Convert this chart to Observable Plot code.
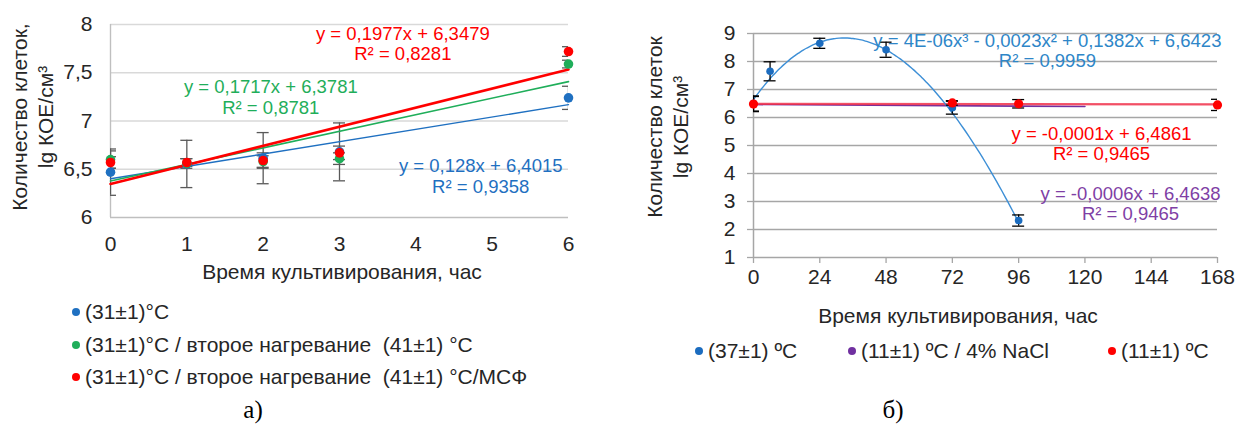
<!DOCTYPE html>
<html>
<head>
<meta charset="utf-8">
<script src="https://cdn.jsdelivr.net/npm/d3@7"></script>
<script src="https://cdn.jsdelivr.net/npm/@observablehq/plot@0.6"></script>
<style>
  body { margin: 0; background: #fff; }
  #root { position: relative; width: 1237px; height: 427px; overflow: hidden; background: #fff;
          font-family: "Liberation Sans", Arial, sans-serif; color: #262626; }
  .ylab { position: absolute; text-align: center; line-height: 26px; font-size: 21px;
          white-space: pre; transform: translate(-50%, -50%) rotate(-90deg); }
  .xlab { position: absolute; font-size: 21px; white-space: nowrap; transform: translate(-50%, -50%); }
  .leg { position: absolute; font-size: 21px; white-space: pre; transform: translateY(-50%); }
  .dot { display: inline-block; width: 8px; height: 8px; border-radius: 50%; margin-right: 5px; vertical-align: 3px; }
  .cap { position: absolute; font-family: "Liberation Serif", "Times New Roman", serif; font-size: 25px;
         color: #000; transform: translate(-50%, -50%); }
</style>
</head>
<body>
<div id="root"></div>
<script>
// ---------- Panel а: growth during cultivation at (31±1)°C ----------
const hoursA = [0, 1, 2, 3, 6];
const seriesNamesA = [
  "(31±1)°C",
  "(31±1)°C / второе нагревание  (41±1) °C",
  "(31±1)°C / второе нагревание  (41±1) °C/МСФ"
];
const colorsA = ["#1f70c1", "#1fae5a", "#ff0000"];
const valuesBlueA = [6.47, 6.555, 6.615, 6.68, 7.24];
const errorsBlueA = [0.24, 0.245, 0.265, 0.30, 0.12];
const valuesGreenA = [6.60, 6.56, 6.58, 6.61, 7.59];
const errorsGreenA = [0.09, 0.05, 0.06, 0.06, 0.04];
const valuesRedA = [6.57, 6.57, 6.59, 6.67, 7.72];
const errorsRedA = [0.06, 0.04, 0.08, 0.07, 0.05];
// linear trendlines y = slope·x + intercept
const slopesA = [0.128, 0.1717, 0.1977];
const interceptsA = [6.4015, 6.3781, 6.3479];
const r2A = ["0,9358", "0,8781", "0,8281"];
const yTicksA = [6, 6.5, 7, 7.5, 8];
const xTicksA = [0, 1, 2, 3, 4, 5, 6];

// ---------- Panel б: long cultivation ----------
const seriesNamesB = ["(37±1) ºC", "(11±1) ºC / 4% NaCl", "(11±1) ºC"];
const colorsB = ["#1b6cbf", "#7030a0", "#ff0000"];
const hours37 = [0, 6, 24, 48, 72, 96];
const values37 = [6.50, 7.65, 8.65, 8.42, 6.35, 2.32];
const errors37 = [0.27, 0.34, 0.18, 0.27, 0.23, 0.20];
const hours11 = [0, 72, 96, 168];
const values11 = [6.48, 6.52, 6.49, 6.45];
const errors11 = [0.27, 0.08, 0.15, 0.20];
// cubic trendline for 37 ºC: 4E-06x³ - 0,0023x² + 0,1382x + 6,6423
const cubic37 = [4e-6, -0.0023, 0.1382, 6.6423];
const range37 = [0, 96];
const r2_37 = "0,9959";
// linear trendlines for 11 ºC series
const slopeNaCl = -0.0006, interceptNaCl = 6.4638, rangeNaCl = [0, 120], r2NaCl = "0,9465";
const slope11 = -0.0001, intercept11 = 6.4861, range11 = [0, 168], r211 = "0,9465";
const yTicksB = [1, 2, 3, 4, 5, 6, 7, 8, 9];
const xTicksB = [0, 24, 48, 72, 96, 120, 144, 168];

const comma = d => String(d).replace(".", ",");
const eqLinear = (a, b) => `y = ${comma(a)}x + ${comma(b)}`;
const root = document.getElementById("root");
const baseStyle = { fontFamily: "Liberation Sans, Arial, sans-serif", fontSize: "21px",
                    color: "#262626", background: "transparent", overflow: "visible" };

function errorMarks(rows, stroke, capHalf) {
  return [
    Plot.ruleX(rows, { x: "x", y1: d => d.y - d.e, y2: d => d.y + d.e, stroke, strokeWidth: 1.3, clip: true }),
    Plot.ruleY(rows, { y: d => d.y - d.e, x1: "x", x2: "x", insetLeft: -capHalf, insetRight: -capHalf,
                       stroke, strokeWidth: 1.3, clip: true }),
    Plot.ruleY(rows, { y: d => d.y + d.e, x1: "x", x2: "x", insetLeft: -capHalf, insetRight: -capHalf,
                       stroke, strokeWidth: 1.3, clip: true })
  ];
}

// ----- build panel а -----
const valsA = [valuesBlueA, valuesGreenA, valuesRedA];
const errsA = [errorsBlueA, errorsGreenA, errorsRedA];
const rowsA = valsA.map((vals, s) => hoursA.map((x, i) => ({ x, y: vals[i], e: errsA[s][i], s })));
const trendRowsA = slopesA.map((a, s) => [xTicksA[0], xTicksA[xTicksA.length - 1]]
  .map(x => ({ x, y: a * x + interceptsA[s], s })));
const trendWidthsA = [1.4, 1.6, 2.6];
const labelPosA = [[4.85, 6.43], [2.1, 7.25], [3.83, 7.8]];

const plotA = Plot.plot({
  width: 600, height: 260,
  marginLeft: 110, marginRight: 32, marginTop: 24, marginBottom: 43,
  style: baseStyle,
  x: { domain: [0, 6] },
  y: { domain: [6, 8] },
  marks: [
    Plot.ruleY(yTicksA.slice(1), { stroke: "#d9d9d9", strokeWidth: 1.3 }),
    Plot.ruleY([6], { stroke: "#bfbfbf", strokeWidth: 1.6 }),
    Plot.ruleX([0], { stroke: "#bfbfbf", strokeWidth: 1.4 }),
    Plot.axisY(yTicksA, { tickSize: 0, tickPadding: 18, tickFormat: comma, label: null }),
    Plot.axisX(xTicksA, { tickSize: 0, tickPadding: 19, label: null }),
    ...rowsA.flatMap(rows => errorMarks(rows, "#595959", 6)),
    ...trendRowsA.map((rows, s) => Plot.line(rows, { x: "x", y: "y", stroke: colorsA[s], strokeWidth: trendWidthsA[s] })),
    ...rowsA.map((rows, s) => Plot.dot(rows, { x: "x", y: "y", r: 4.8, fill: colorsA[s] })),
    ...slopesA.map((a, s) => Plot.text([`${eqLinear(a, interceptsA[s])}\nR² = ${r2A[s]}`], {
      x: labelPosA[s][0], y: labelPosA[s][1], text: d => d, fill: colorsA[s],
      fontSize: 18.5, lineHeight: 1.1
    }))
  ]
});
plotA.style.position = "absolute";
plotA.style.left = "0px";
plotA.style.top = "0px";
root.appendChild(plotA);

// ----- build panel б -----
const rows37 = hours37.map((x, i) => ({ x, y: values37[i], e: errors37[i] }));
const rows11 = hours11.map((x, i) => ({ x, y: values11[i], e: errors11[i] }));
const cubic = x => ((cubic37[0] * x + cubic37[1]) * x + cubic37[2]) * x + cubic37[3];
const curve37 = d3.range(range37[0], range37[1] + 0.001, 1).map(x => ({ x, y: cubic(x) }));
const lineNaCl = rangeNaCl.map(x => ({ x, y: slopeNaCl * x + interceptNaCl }));
const line11 = range11.map(x => ({ x, y: slope11 * x + intercept11 }));

const plotB = Plot.plot({
  width: 617, height: 300,
  marginLeft: 133, marginRight: 20, marginTop: 33, marginBottom: 43,
  style: baseStyle,
  x: { domain: [0, 168] },
  y: { domain: [1, 9] },
  marks: [
    Plot.ruleY(yTicksB.slice(1), { stroke: "#a6a6a6", strokeWidth: 1.3 }),
    Plot.ruleY([1], { stroke: "#a6a6a6", strokeWidth: 1.5 }),
    Plot.ruleX([0], { stroke: "#a6a6a6", strokeWidth: 1.5 }),
    Plot.axisY(yTicksB, { tickSize: 6, tickPadding: 12, stroke: "#a6a6a6", strokeWidth: 1.3, label: null }),
    Plot.axisX(xTicksB, { tickSize: 6, tickPadding: 6, stroke: "#a6a6a6", strokeWidth: 1.3, label: null }),
    Plot.line(lineNaCl, { x: "x", y: "y", stroke: colorsB[1], strokeWidth: 1.6 }),
    Plot.line(line11, { x: "x", y: "y", stroke: "#f0304a", strokeWidth: 2.4, strokeOpacity: 0.85 }),
    Plot.line(curve37, { x: "x", y: "y", stroke: "#3d8fd6", strokeWidth: 1.4, curve: "basis" }),
    ...errorMarks(rows37, "#000", 6),
    ...errorMarks(rows11, "#000", 6),
    Plot.dot(rows37, { x: "x", y: "y", r: 3.8, fill: colorsB[0] }),
    Plot.dot(rows11, { x: "x", y: "y", r: 4.6, fill: colorsB[2] }),
    Plot.text([`y = 4E-06x³ - 0,0023x² + 0,1382x + 6,6423\nR² = ${r2_37}`], {
      x: 106.4, y: 8.39, text: d => d, fill: "#2e86c8", fontSize: 18.5, lineHeight: 1.1 }),
    Plot.text([`${eqLinear(slope11, intercept11)}\nR² = ${r211}`], {
      x: 126, y: 5.07, text: d => d, fill: colorsB[2], fontSize: 18.5, lineHeight: 1.1 }),
    Plot.text([`${eqLinear(slopeNaCl, interceptNaCl)}\nR² = ${r2NaCl}`], {
      x: 136.5, y: 2.93, text: d => d, fill: "#7f3fa5", fontSize: 18.5, lineHeight: 1.1 })
  ]
});
plotB.style.position = "absolute";
plotB.style.left = "620px";
plotB.style.top = "0px";
root.appendChild(plotB);

// ----- titles, legends and captions -----
function addDiv(cls, text, left, top) {
  const d = document.createElement("div");
  d.className = cls;
  d.textContent = text;
  d.style.left = left + "px";
  d.style.top = top + "px";
  root.appendChild(d);
  return d;
}
addDiv("ylab", "Количество клеток,\nlg КОЕ/см³", 33, 117);
addDiv("ylab", "Количество клеток\nlg КОЕ/см³", 668, 127);
addDiv("xlab", "Время культивирования, час", 342, 272);
addDiv("xlab", "Время культивирования, час", 958, 316);

function addLegendItem(name, color, left, top) {
  const d = document.createElement("div");
  d.className = "leg";
  d.style.left = left + "px";
  d.style.top = top + "px";
  const dot = document.createElement("span");
  dot.className = "dot";
  dot.style.background = color;
  d.appendChild(dot);
  d.appendChild(document.createTextNode(name));
  root.appendChild(d);
}
const legendRowsA = [312, 345, 377];
seriesNamesA.forEach((name, i) => addLegendItem(name, colorsA[i], 72, legendRowsA[i]));
const legendColsB = [695, 848, 1108];
seriesNamesB.forEach((name, i) => addLegendItem(name, colorsB[i], legendColsB[i], 351));

addDiv("cap", "а)", 253, 410);
addDiv("cap", "б)", 893, 410);
</script>
</body>
</html>
